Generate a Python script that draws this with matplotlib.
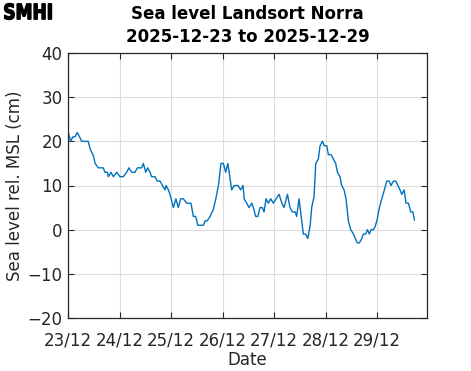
import datetime as dt
import matplotlib
matplotlib.use("Agg")
import matplotlib.pyplot as plt
import matplotlib.dates as mdates
from matplotlib.textpath import TextPath
from matplotlib.patches import PathPatch
from matplotlib.font_manager import FontProperties
from matplotlib.transforms import Affine2D, IdentityTransform

# hours since 2025-12-23 00:00 and sea level (cm)
hours = [0, 1.1, 2.1, 3.1, 4.2, 6.3, 9.3, 10.1, 11.7, 12.5, 14.0, 15.1, 16.3, 17.1,
         18.2, 18.7, 19.9, 21.0, 22.6, 24.1, 25.7, 27.2, 28.3, 29.6, 31.1, 32.2,
         34.2, 35.0, 36.1, 37.0, 38.1, 38.9, 40.4, 41.5, 42.8, 43.9, 45.1, 45.6,
         46.7, 47.4, 49.0, 50.2, 51.3, 52.4, 53.6, 55.2, 57.2, 58.3, 59.4, 60.4,
         63.0, 63.8, 64.8, 66.1, 67.6, 68.8, 70.0, 71.2, 72.3, 73.4, 74.4, 76.2,
         77.4, 79.2, 80.4, 81.5, 82.0, 83.2, 84.3, 85.6, 86.3, 87.4, 88.4, 89.4,
         90.5, 91.3, 92.2, 93.3, 94.4, 95.6, 96.9, 98.3, 99.6, 100.6, 102.2, 103.4,
         104.5, 105.8, 106.5, 107.6, 108.6, 109.6, 110.7, 111.7, 112.8, 113.5,
         114.6, 115.4, 116.6, 117.4, 118.5, 119.4, 120.5, 121.3, 122.5, 123.6,
         124.7, 125.5, 126.7, 127.5, 128.6, 129.5, 130.6, 131.7, 133.0, 134.1,
         134.8, 135.7, 136.9, 137.6, 138.7, 139.5, 140.4, 141.2, 142.3, 143.1,
         144.1, 145.1, 146.2, 147.4, 148.5, 149.6, 150.5, 151.6, 152.7, 153.7,
         154.7, 155.5, 156.6, 157.5, 158.6, 159.7, 160.7, 161.4]
level = [22, 20, 21, 21, 22, 20, 20, 18.4, 16.7, 15, 14, 14, 14, 13,
         13, 12, 13, 12, 13, 12, 12, 13, 14, 13, 13, 14,
         14, 15, 13, 14, 13, 12, 12, 11, 11, 10, 9, 10,
         9, 8, 5, 7, 5, 7, 7, 6, 6, 3, 3, 1,
         1, 2, 2, 3, 4.5, 7, 10, 15, 15, 13, 15, 9,
         10, 10, 9, 10, 7, 6, 5, 6, 5, 3, 3, 5,
         5, 4, 7, 6, 7, 6, 7, 8, 6, 5, 8, 5,
         4, 4, 3, 7, 3, -1, -1, -2, 1, 5,
         7.5, 15, 16, 19, 20, 19, 19, 17, 17, 16,
         15, 13, 12, 10, 9, 7, 2, 0, -1, -2.3,
         -3, -3, -2, -1, -1, 0, -1, 0, 0, 0.7,
         2.4, 5, 7, 9, 11, 11, 10, 11, 11, 10,
         9, 8, 9, 6, 6, 4, 4, 2.2]

start = dt.datetime(2025, 12, 23)
times = [start + dt.timedelta(hours=h) for h in hours]
day_ticks = [start + dt.timedelta(days=d) for d in range(7)]

plt.rcParams['font.family'] = ['DejaVu Sans']

fig = plt.figure(figsize=(4.71, 3.71), dpi=100)
ax = fig.add_axes([0.145, 0.143, 0.7616, 0.714])

ax.plot(times, level, color='#0072BD', linewidth=1.0)

ax.set_xlim(start, start + dt.timedelta(days=6.97))
ax.set_ylim(-20, 40)
ax.set_xticks(day_ticks)
ax.xaxis.set_major_formatter(mdates.DateFormatter('%d/%m'))
ax.set_yticks([-20, -10, 0, 10, 20, 30, 40])

ax.grid(True, color='#dcdcdc', linewidth=0.8)
ax.set_axisbelow(True)
ax.tick_params(direction='in', top=True, right=True, length=4, width=0.8,
               labelsize=12, colors='#262626', pad=4)
ax.tick_params(axis='x', pad=10)
for s in ax.spines.values():
    s.set_linewidth(0.9)
    s.set_color('#262626')

ax.set_xlabel('Date', fontsize=12, color='#262626', labelpad=1)
ax.set_ylabel('Sea level rel. MSL (cm)', fontsize=12, color='#262626', labelpad=3)
ax.set_title('Sea level Landsort Norra\n2025-12-23 to 2025-12-29',
             fontsize=12, fontweight='bold', linespacing=1.35, pad=8)

# SMHI logo: condensed heavy lettering, squeezed into its box
tp = TextPath((0, 0), 'SMHI', size=20,
              prop=FontProperties(family='DejaVu Sans', weight='bold'))
ext = tp.get_extents()
sx = 47 / ext.width
sy = 16 / ext.height
logo_tf = (Affine2D().translate(-ext.x0, -ext.y0).scale(sx, sy)
           .translate(4.5, 371 - 19.5) + IdentityTransform())
fig.patches.append(PathPatch(tp, transform=logo_tf, facecolor='black',
                             edgecolor='black', linewidth=1.0))

fig.savefig('out.png', dpi=100)
